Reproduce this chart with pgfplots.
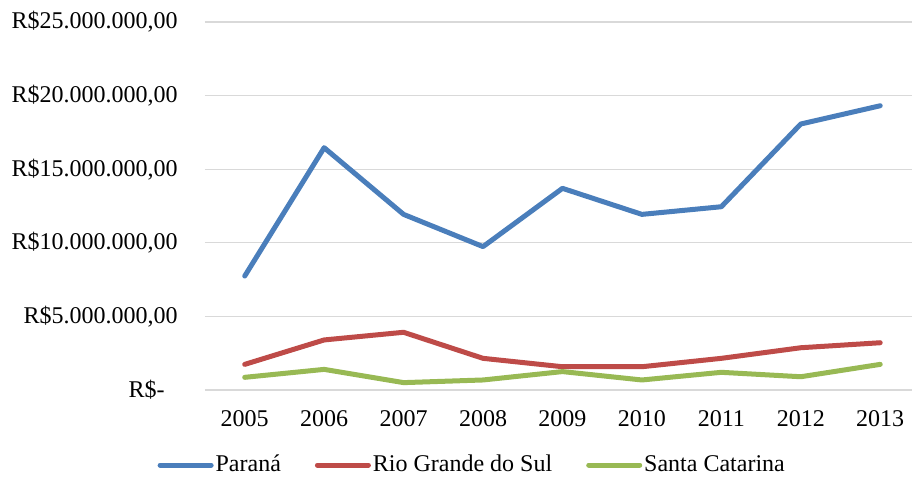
\documentclass[border=0pt]{standalone}
\usepackage{fontspec}
\setmainfont{Liberation Serif}
\usepackage{pgfplots}
\pgfplotsset{compat=1.18}
\usetikzlibrary{calc}
\definecolor{cblue}{HTML}{4A7EBB}
\definecolor{cred}{HTML}{BE4B48}
\definecolor{cgreen}{HTML}{98B954}
\definecolor{gridgray}{HTML}{D9D9D9}
\begin{document}
\fontsize{12}{14}\selectfont
\begin{tikzpicture}
\begin{axis}[
  scale only axis, width=353.5pt, height=184pt,
  xmin=2004.5, xmax=2013.4, ymin=0, ymax=25,
  axis line style={draw=none}, tick style={draw=none},
  xtick={2005,2006,2007,2008,2009,2010,2011,2012,2013},
  xticklabels={2005,2006,2007,2008,2009,2010,2011,2012,2013},
  ytick={0,5,10,15,20,25},
  yticklabels={{R\$-\hspace*{6.5pt}},{R\$5.000.000,00},{R\$10.000.000,00},{R\$15.000.000,00},{R\$20.000.000,00},{R\$25.000.000,00}},
  ymajorgrids, grid style={draw=gridgray, line width=0.6pt},
  yticklabel style={xshift=-9.5pt},
  xticklabel style={yshift=-6pt},
  legend columns=3,
  legend style={at={(0.378,-0.204)}, anchor=center, draw=none, fill=none,
    /tikz/every even column/.append style={column sep=16pt},
    nodes={inner sep=1pt, anchor=west}},
  legend image code/.code={\draw[#1, line cap=round] (1.25pt,0pt) -- (26.75pt,0pt);},
  every axis plot/.append style={line width=2.5pt, line join=round, line cap=round},
]
\addplot[cblue] coordinates {(2005,7.74) (2006,16.46) (2007,11.93) (2008,9.74) (2009,13.7) (2010,11.93) (2011,12.45) (2012,18.07) (2013,19.31)};
\addlegendentry{Paraná}
\addplot[cred] coordinates {(2005,1.74) (2006,3.40) (2007,3.92) (2008,2.15) (2009,1.58) (2010,1.58) (2011,2.15) (2012,2.87) (2013,3.21)};
\addlegendentry{Rio Grande do Sul}
\addplot[cgreen] coordinates {(2005,0.86) (2006,1.40) (2007,0.50) (2008,0.68) (2009,1.25) (2010,0.68) (2011,1.20) (2012,0.90) (2013,1.74)};
\addlegendentry{Santa Catarina}
\end{axis}
\pgfresetboundingbox
\path[use as bounding box] ($(current axis.south west)+(-102.5pt,-44.5pt)$) rectangle ($(current axis.north east)+(0pt,11pt)$);
\end{tikzpicture}
\end{document}
